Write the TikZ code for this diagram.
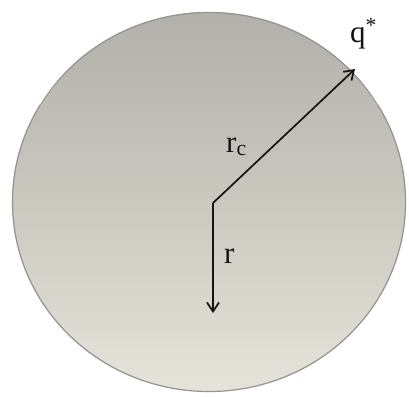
\documentclass[tikz,border=0pt]{standalone}
\usepackage{fontspec}
\setmainfont{Liberation Serif}
\usetikzlibrary{arrows.meta}
\definecolor{discTop}{RGB}{178,176,170}
\definecolor{discMid}{RGB}{203,200,192}
\definecolor{discBot}{RGB}{230,227,218}
\definecolor{rimDark}{RGB}{150,148,143}
\definecolor{inkc}{RGB}{20,20,20}
\tikzset{
  disc/.style={top color=discTop, bottom color=discBot, middle color=discMid},
  vec/.style={draw=inkc, line width=1.7pt, -{Straight Barb[length=9pt,width=12pt,line width=1.7pt]}},
  lab/.style={text=inkc, inner sep=0pt, font=\fontsize{31}{37}\selectfont},
}
\begin{document}
\begin{tikzpicture}[x=1pt,y=-1pt]
  \useasboundingbox[fill=white] (0,0) rectangle (409,397);
  \shade[disc] (209,202) ellipse [x radius=197, y radius=190];
  \draw[rimDark, line width=1.2pt] (209,202) ellipse [x radius=196.5, y radius=189.5];
  \draw[white, line width=2pt, opacity=0.8] (209,202) ++(-150:196) arc[start angle=-150, end angle=-30, x radius=196, y radius=189];
  \coordinate (O) at (213,203);
  \coordinate (A) at (355,69);
  \coordinate (B) at (213,313);
  \draw[vec] (O) -- (A);
  \draw[vec] (O) -- (B);
  \node[lab, anchor=base west] (rc) at (226,152) {r\textsubscript{c}};
  \node[lab, anchor=base west] (r) at (224,263) {r};
  \node[lab, anchor=base west] (q) at (350,42) {q\textsuperscript{*}};
\end{tikzpicture}
\end{document}
